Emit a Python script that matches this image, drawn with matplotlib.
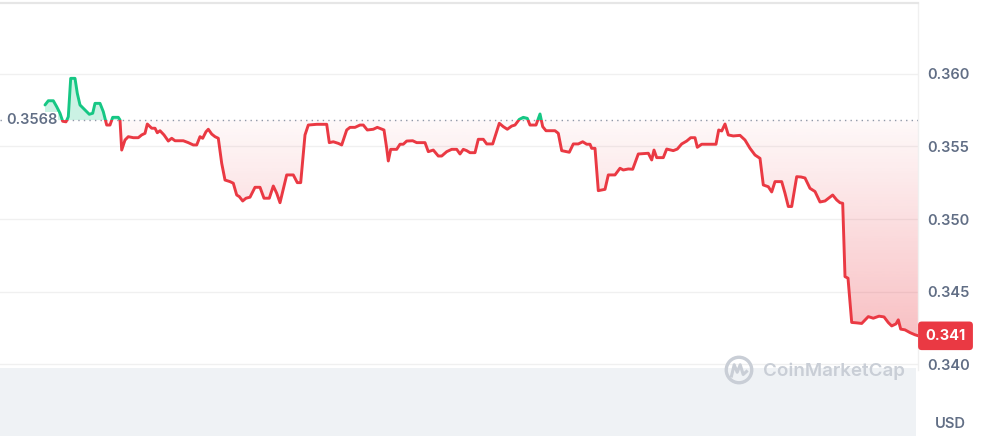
import numpy as np
import matplotlib
matplotlib.use("Agg")
import matplotlib.pyplot as plt
from matplotlib.path import Path
from matplotlib.patches import Rectangle, Circle
import matplotlib.transforms as mtransforms

plt.rcParams['font.family'] = ['Inter', 'DejaVu Sans']

# ---------------- data (time index, price in USD) ----------------
t = [45,48.3,53.3,56.7,60,62.7,66,68.3,70.7,75,
     77.3,80,83.3,86.7,89.3,92.7,95,100,103.3,106.7,
     110,112.7,118.3,120,121.7,125,128.3,133.3,138.3,141.7,
     145,147.3,151.7,155,157.3,160,164,168.3,171.7,175,
     183.3,188.3,193.3,196.7,200,202.7,206,208.3,211.7,215,
     218.3,221.7,225,230,233.3,236.7,239.3,242.7,246,250,
     255,260,264,269.3,273.3,276.7,280,286.7,293.3,297.3,
     300.7,305,308.3,316.7,326.7,329.3,333.3,338.3,341.7,346.7,
     350,355,360,363.3,367.3,373.3,377.3,384,386.7,388.3,
     390.7,396.7,400,403.3,406.7,412.7,416.7,425,428.3,433.3,
     438.3,441.7,446.7,451.7,456.7,460,463.3,466.7,470,475,
     478.3,483.3,486.7,492.7,499.3,503.3,507.3,511.7,515,519.3,
     523.3,527.3,530,536,540,542.7,546,555,558.3,561.7,
     569.3,573.3,578.3,582.7,586.7,590,591.7,595,598.3,605,
     608.3,615,620,623.3,628.3,632.7,638.3,648.3,651.7,654,
     656.7,663.3,666.7,673.3,677.3,681.7,686.7,690.7,695,697.3,
     701.7,716,718.7,721.7,725,728.3,733.3,740,745,750,
     755,760,763.3,768.3,771.7,775,781.7,785,788.3,791.7,
     796.7,801,805,810,815,820,825,832.7,836.7,840,
     842.7,845,848,851.7,856.7,861.7,868.3,873.3,879,884,
     888.3,891.7,896,898.3,900.7,905,910,915,918.3]

price = [.35784,.35813,.35813,.35772,.35727,.35672,.35668,.35703,.35967,.35967,
         .35864,.35784,.35761,.35738,.35720,.35727,.35795,.35795,.35738,.35646,
         .35646,.35699,.35699,.35681,.35474,.35543,.35566,.35559,.35559,.35578,
         .35589,.35653,.35624,.35624,.35593,.35607,.35578,.35536,.35555,.35538,
         .35538,.35525,.35509,.35509,.35566,.35555,.35600,.35617,.35584,.35566,
         .35555,.35383,.35268,.35257,.35246,.35165,.35154,.35124,.35143,.35150,
         .35218,.35218,.35143,.35143,.35227,.35177,.35112,.35303,.35303,.35250,
         .35250,.35578,.35646,.35651,.35651,.35525,.35531,.35520,.35509,.35612,
         .35630,.35630,.35646,.35646,.35612,.35617,.35630,.35612,.35486,.35399,
         .35479,.35479,.35514,.35514,.35536,.35538,.35525,.35525,.35463,.35474,
         .35433,.35433,.35463,.35479,.35479,.35447,.35479,.35470,.35456,.35456,
         .35548,.35548,.35516,.35516,.35658,.35635,.35617,.35639,.35646,.35685,
         .35699,.35692,.35646,.35646,.35722,.35635,.35607,.35607,.35589,.35470,
         .35459,.35516,.35516,.35531,.35514,.35514,.35486,.35486,.35195,.35204,
         .35303,.35303,.35349,.35337,.35344,.35342,.35447,.35452,.35406,.35474,
         .35422,.35422,.35481,.35470,.35481,.35516,.35536,.35559,.35559,.35493,
         .35514,.35514,.35612,.35605,.35653,.35578,.35571,.35575,.35543,.35486,
         .35440,.35417,.35234,.35222,.35186,.35257,.35257,.35177,.35086,.35086,
         .35291,.35289,.35282,.35211,.35189,.35117,.35124,.35165,.35131,.35112,
         .35108,.34604,.34593,.34289,.34286,.34282,.34329,.34318,.34332,.34327,
         .34288,.34265,.34279,.34307,.34243,.34238,.34219,.34204,.34197]

baseline = 0.3568
baseline_label = "0.3568"
last_label = "0.341"
ytick_vals = [0.340, 0.345, 0.350, 0.355, 0.360]
ytick_labels = ["0.340", "0.345", "0.350", "0.355", "0.360"]
currency = "USD"
watermark = "CoinMarketCap"

# ---------------- styling ----------------
RED = '#ea3943'
GREEN = '#16c784'
GREY_TXT = '#616e85'
W, H = 981, 436

t = np.array(t)
price = np.array(price)

fig = plt.figure(figsize=(W / 100, H / 100), dpi=100)
fig.patch.set_facecolor('white')

def fy(y):
    return 1 - y / H

# bottom grey band (volume area)
fig.patches.append(Rectangle((0, 0), 916 / W, (H - 368) / H, transform=fig.transFigure,
                             facecolor='#eff2f5', edgecolor='none', zorder=0))

ax = fig.add_axes([0, fy(370), 918 / W, (370 - 3) / H])
ax.set_facecolor('none')
XLIM = (0, 918)
YLIM = (0.33962, 0.36485)

# green fill above baseline
ax.fill_between(t, price, baseline, where=price >= baseline, interpolate=True,
                color=GREEN, alpha=0.22, lw=0, zorder=2)

# red gradient fill below baseline
poly = ax.fill_between(t, price, baseline, where=price <= baseline, interpolate=True,
                       color='none', lw=0)
paths = poly.get_paths()
compound = Path.make_compound_path(*paths)
n = 256
grad = np.zeros((n, 1, 4))
grad[:, 0, 0] = 234 / 255
grad[:, 0, 1] = 57 / 255
grad[:, 0, 2] = 67 / 255
grad[:, 0, 3] = np.linspace(0.03, 0.32, n)
im = ax.imshow(grad, extent=[XLIM[0], XLIM[1], 0.3418, baseline], origin='upper',
               aspect='auto', zorder=2, interpolation='bilinear')
im.set_clip_path(compound, ax.transData)

# dotted baseline
ax.axhline(baseline, color='#8f98a8', lw=1, ls=(0, (1, 3)), zorder=3)

# price line: green above, red below the baseline
l_red, = ax.plot(t, price, color=RED, lw=2.1, solid_joinstyle='round',
                 solid_capstyle='round', zorder=4)
l_red.set_clip_path(Rectangle((XLIM[0], YLIM[0]), XLIM[1] - XLIM[0], baseline - YLIM[0],
                              transform=ax.transData))
l_green, = ax.plot(t, price, color=GREEN, lw=2.1, solid_joinstyle='round',
                   solid_capstyle='round', zorder=4)
l_green.set_clip_path(Rectangle((XLIM[0], baseline), XLIM[1] - XLIM[0], YLIM[1] - baseline,
                                transform=ax.transData))

ax.text(6, baseline, baseline_label, va='center', ha='left', fontsize=10.5,
        color=GREY_TXT, zorder=5, fontweight='semibold',
        bbox=dict(facecolor='white', edgecolor='none', pad=0.5))

ax.set_xlim(*XLIM)
ax.set_ylim(*YLIM)
ax.set_xticks([])
ax.yaxis.tick_right()
ax.set_yticks(ytick_vals)
ax.set_yticklabels(ytick_labels)
ax.tick_params(axis='y', length=0, pad=7, labelsize=10.5, labelcolor=GREY_TXT)
for lab in ax.get_yticklabels():
    lab.set_fontweight('semibold')
ax.grid(axis='y', color='#f0f0f0', lw=1, zorder=0)
ax.set_axisbelow(True)
for s in ['left', 'bottom']:
    ax.spines[s].set_visible(False)
ax.spines['top'].set_color('#e6e6e6')
ax.spines['top'].set_linewidth(1.6)
ax.spines['right'].set_color('#f0f0f0')
ax.spines['right'].set_linewidth(1)

# last price tag
trans = mtransforms.blended_transform_factory(fig.transFigure, ax.transData)
ax.text(945.5 / W, price[-1], last_label, transform=trans, ha='center', va='center',
        fontsize=10.5, color='white', fontweight='bold', clip_on=False, zorder=10,
        bbox=dict(boxstyle='round,pad=0.5,rounding_size=0.25', facecolor=RED, edgecolor='none'))

# currency label
fig.text(950 / W, fy(424), currency, ha='center', va='center', fontsize=10.5,
         color=GREY_TXT, fontweight='semibold')

# watermark
wm_col = '#c9ced6'
fig.text(763 / W, fy(371), watermark, ha='left', va='center', fontsize=13.5,
         color=wm_col, fontweight='semibold', zorder=6)
lax = fig.add_axes([(739 - 15) / W, fy(370 + 15), 30 / W, 30 / H])
lax.set_zorder(10)
lax.set_xlim(-1, 1)
lax.set_ylim(-1, 1)
lax.axis('off')
lax.add_patch(Circle((0, 0), 0.85, fill=False, lw=2.4, color=wm_col))
lax.plot([-0.5, -0.32, -0.12, 0.08, 0.28, 0.5], [-0.4, 0.35, -0.15, 0.35, -0.3, -0.1],
         color=wm_col, lw=2.2, solid_joinstyle='round')

fig.savefig('out.png', dpi=100, facecolor='white')
